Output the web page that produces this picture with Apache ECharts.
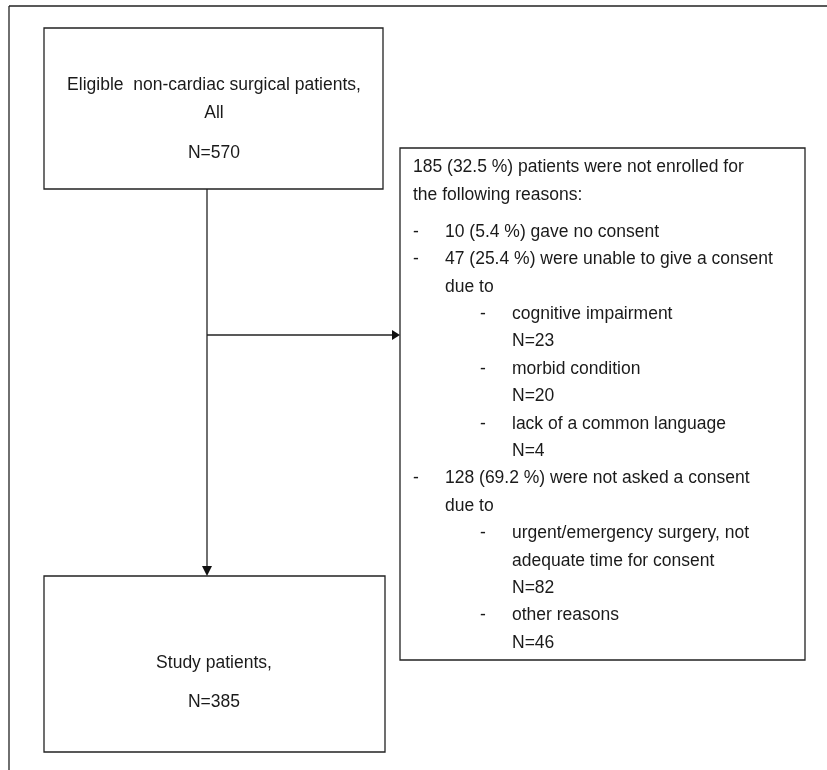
<!DOCTYPE html>
<html><head><meta charset="utf-8">
<script src="https://cdn.jsdelivr.net/npm/echarts@6/dist/echarts.min.js"></script>
<style>html,body{margin:0;padding:0;background:#fff}#c{width:827px;height:770px}</style>
</head><body><div id="c"></div>
<script>
const topBoxLines = ["Eligible  non-cardiac surgical patients,", "All", "N=570"];
const bottomBoxLines = ["Study patients,", "N=385"];
const exclusionHeader = ["185 (32.5 %) patients were not enrolled for", "the following reasons:"];
// [level, text] level 1 = dash item, 2 = sub dash item, 0 = continuation at level1 text, 3 = continuation at level2 text
const exclusionItems = [
  [1, "10 (5.4 %) gave no consent"],
  [1, "47 (25.4 %) were unable to give a consent"],
  [0, "due to"],
  [2, "cognitive impairment"],
  [3, "N=23"],
  [2, "morbid condition"],
  [3, "N=20"],
  [2, "lack of a common language"],
  [3, "N=4"],
  [1, "128 (69.2 %) were not asked a consent"],
  [0, "due to"],
  [2, "urgent/emergency surgery, not"],
  [3, "adequate time for consent"],
  [3, "N=82"],
  [2, "other reasons"],
  [3, "N=46"]
];
const font = '17.5px "Liberation Sans", Arial, sans-serif';
const col = '#1a1a1a';
const lw = 1.3;
const g = [];
function rect(x,y,w,h){g.push({type:'rect',shape:{x,y,width:w,height:h},style:{fill:'#fff',stroke:'#222',lineWidth:lw}});}
function line(x1,y1,x2,y2){g.push({type:'line',shape:{x1,y1,x2,y2},style:{stroke:'#222',lineWidth:lw}});}
function txt(x,y,t,align){g.push({type:'text',x,y,style:{text:t,font,fill:col,align:align||'left',verticalAlign:'middle'}});}
function tri(pts){g.push({type:'polygon',shape:{points:pts},style:{fill:'#111'}});}
line(9,6,827,6); line(9,6,9,770);
rect(44,28,339,161);
rect(44,576,341,176);
rect(400,148,405,512);
line(207,189,207,568); tri([[202,566],[212,566],[207,576]]);
line(207,335,392,335); tri([[392,330],[392,340],[400,335]]);
[85,113,153].forEach((y,i)=>txt(214,y,topBoxLines[i],'center'));
[663,702].forEach((y,i)=>txt(214,y,bottomBoxLines[i],'center'));
txt(413,167,exclusionHeader[0]); txt(413,195,exclusionHeader[1]);
let y=232;
exclusionItems.forEach(([lv,t])=>{
  if(lv===1){txt(413,y,'-');txt(445,y,t);}
  else if(lv===0){txt(445,y,t);}
  else if(lv===2){txt(480,y,'-');txt(512,y,t);}
  else {txt(512,y,t);}
  y+=27.4;
});
const chart = echarts.init(document.getElementById('c'));
chart.setOption({animation:false,graphic:{elements:g}});
</script></body></html>
